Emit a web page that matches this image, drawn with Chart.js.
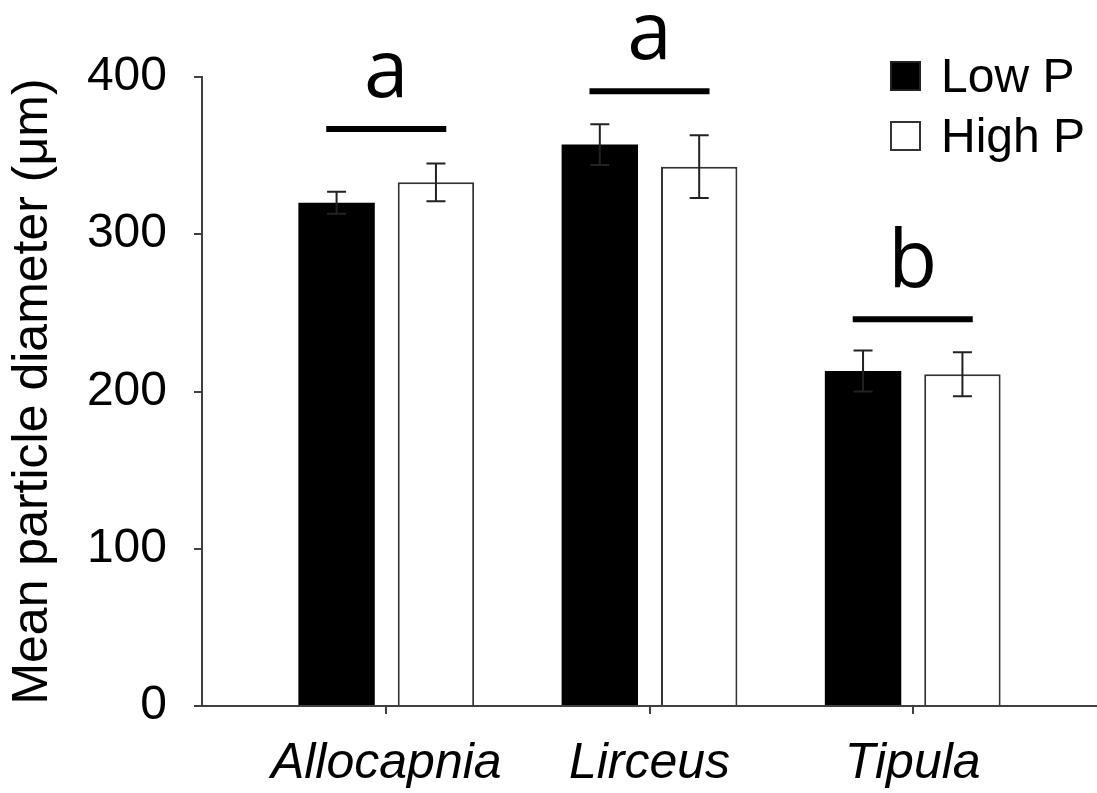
<!DOCTYPE html>
<html>
<head>
<meta charset="utf-8">
<script src="https://cdn.jsdelivr.net/npm/chart.js@4.4.1/dist/chart.umd.min.js"></script>
<style>
  html, body { margin: 0; padding: 0; background: #fff; }
  #wrap { width: 1097px; height: 793px; }
</style>
</head>
<body>
<div id="wrap"><canvas id="chart" width="1097" height="793"></canvas></div>
<script>
// values
const categories = ['Allocapnia', 'Lirceus', 'Tipula'];
const lowP = [320, 357, 213];
const lowPErr = [7, 13, 13];
const highP = [333, 343, 211];
const highPErr = [12, 20, 14];
const yTicks = [0, 100, 200, 300, 400];

// significance bars above each group
const sigLevel = [367, 391, 246];
const sigLetters = ['a', 'a', 'b'];

const AXIS = '#404040';

// error bars drawn on top of each bar
const errorBars = {
    id: 'errorBars',
    afterDatasetsDraw(chart) {
        const ctx = chart.ctx;
        const y = chart.scales.y;
        const errs = [lowPErr, highPErr];
        ctx.save();
        ctx.strokeStyle = '#222';
        ctx.lineWidth = 2;
        chart.data.datasets.forEach((ds, d) => {
            const meta = chart.getDatasetMeta(d);
            meta.data.forEach((bar, i) => {
                const v = ds.data[i].y;
                const top = y.getPixelForValue(v + errs[d][i]);
                const bot = y.getPixelForValue(v - errs[d][i]);
                ctx.beginPath();
                ctx.moveTo(bar.x, top);
                ctx.lineTo(bar.x, bot);
                ctx.moveTo(bar.x - 9.5, top);
                ctx.lineTo(bar.x + 9.5, top);
                ctx.moveTo(bar.x - 9.5, bot);
                ctx.lineTo(bar.x + 9.5, bot);
                ctx.stroke();
            });
        });
        ctx.restore();
    }
};

// horizontal bars with letters
const sigMarks = {
    id: 'sigMarks',
    afterDatasetsDraw(chart) {
        const ctx = chart.ctx;
        const x = chart.scales.x;
        const y = chart.scales.y;
        ctx.save();
        ctx.strokeStyle = '#000';
        ctx.fillStyle = '#000';
        ctx.lineWidth = 6;
        ctx.font = '80px "Open Sans"';
        ctx.textAlign = 'center';
        ctx.textBaseline = 'alphabetic';
        categories.forEach((c, i) => {
            const py = y.getPixelForValue(sigLevel[i]);
            const x0 = x.getPixelForValue(i - 0.228);
            const x1 = x.getPixelForValue(i + 0.228);
            ctx.beginPath();
            ctx.moveTo(x0, py);
            ctx.lineTo(x1, py);
            ctx.stroke();
            ctx.fillText(sigLetters[i], (x0 + x1) / 2, py - 32);
        });
        ctx.restore();
    }
};

// stacked legend in the upper right corner
const boxLegend = {
    id: 'boxLegend',
    afterDraw(chart) {
        const ctx = chart.ctx;
        ctx.save();
        ctx.font = '48px "Liberation Sans"';
        ctx.textBaseline = 'alphabetic';
        ctx.textAlign = 'left';
        chart.data.datasets.forEach((ds, d) => {
            const base = 92 + d * 60;
            ctx.fillStyle = ds.backgroundColor;
            ctx.fillRect(891, base - 30, 29, 28);
            ctx.lineWidth = 2;
            ctx.strokeStyle = d === 0 ? '#222' : '#333';
            ctx.strokeRect(891, base - 30, 29, 28);
            ctx.fillStyle = '#000';
            ctx.fillText(ds.label, 941, base);
        });
        ctx.restore();
    }
};

new Chart(document.getElementById('chart'), {
    type: 'bar',
    data: {
        datasets: [{
            label: 'Low P',
            data: lowP.map((v, i) => ({ x: i, y: v })),
            backgroundColor: '#000',
            borderWidth: 0
        }, {
            label: 'High P',
            data: highP.map((v, i) => ({ x: i, y: v })),
            backgroundColor: '#fff',
            borderColor: '#333',
            borderWidth: 2
        }]
    },
    options: {
        responsive: false,
        animation: false,
        layout: { padding: { top: 77, right: 0, bottom: 0, left: 0 } },
        datasets: {
            bar: { categoryPercentage: 0.755, barPercentage: 0.769 }
        },
        plugins: {
            legend: { display: false },
            tooltip: { enabled: false }
        },
        scales: {
            x: {
                type: 'linear',
                offset: false,
                min: -0.7,
                max: 2.7,
                afterBuildTicks: s => { s.ticks = categories.map((c, i) => ({ value: i })); },
                afterFit: s => { s.height = 87; },
                border: { display: true, color: AXIS, width: 2 },
                grid: { display: true, offset: false, drawOnChartArea: false, drawTicks: true, tickLength: 8, color: AXIS, lineWidth: 2 },
                ticks: {
                    autoSkip: false,
                    maxRotation: 0,
                    padding: 20,
                    color: '#000',
                    font: { family: 'Liberation Sans', size: 50, style: 'italic' },
                    callback: v => categories[v]
                }
            },
            y: {
                min: 0,
                max: 400,
                afterBuildTicks: s => { s.ticks = yTicks.map(v => ({ value: v })); },
                afterFit: s => { s.width = 202; },
                border: { display: true, color: AXIS, width: 2 },
                grid: { display: true, drawOnChartArea: false, drawTicks: true, tickLength: 8, color: AXIS, lineWidth: 2 },
                ticks: {
                    padding: 27,
                    color: '#000',
                    font: { family: 'Liberation Sans', size: 48 }
                },
                title: {
                    display: true,
                    text: 'Mean particle diameter (μm)',
                    color: '#000',
                    font: { family: 'Liberation Sans', size: 50 },
                    padding: { top: 3, bottom: 0 }
                }
            }
        }
    },
    plugins: [errorBars, sigMarks, boxLegend]
});
</script>
</body>
</html>
